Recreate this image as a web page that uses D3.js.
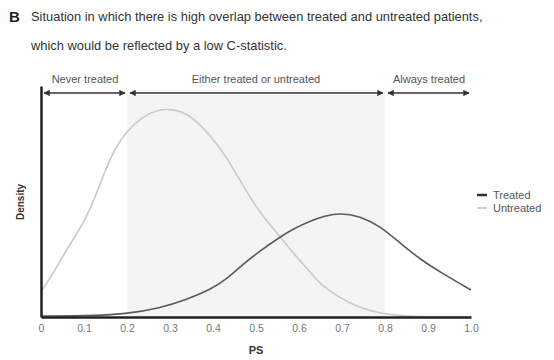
<!DOCTYPE html>
<html><head><meta charset="utf-8">
<script src="https://cdn.jsdelivr.net/npm/d3@7/dist/d3.min.js"></script>
<style>body{margin:0;background:#fff;}text{font-family:"Liberation Sans",Arial,sans-serif;}</style>
</head><body>
<script>
const title1 = "Situation in which there is high overlap between treated and untreated patients,";
const title2 = "which would be reflected by a low C-statistic.";
const xTicks = [0,0.1,0.2,0.3,0.4,0.5,0.6,0.7,0.8,0.9,1.0];
const xTickLabels = ["0","0.1","0.2","0.3","0.4","0.5","0.6","0.7","0.8","0.9","1.0"];
const regionLabels = ["Never treated","Either treated or untreated","Always treated"];
const regionBounds = [[0,0.2],[0.2,0.8],[0.8,1.0]];
const seriesNames = ["Treated","Untreated"];
const untreatedPS = [0,0.033,0.063,0.102,0.126,0.149,0.172,0.2,0.235,0.27,0.3,0.33,0.354,0.393,0.432,0.47,0.509,0.549,0.586,0.626,0.649,0.695,0.742,0.788,0.835,0.9,1.0];
const untreatedDensity = [0.25,0.47,0.70,0.96,1.20,1.46,1.69,1.86,2.00,2.07,2.08,2.05,1.99,1.82,1.60,1.31,1.04,0.84,0.64,0.45,0.33,0.19,0.09,0.04,0.01,0.0,0.0];
const treatedPS = [0,0.1,0.2,0.277,0.335,0.393,0.432,0.47,0.509,0.556,0.586,0.626,0.66,0.695,0.742,0.788,0.835,0.881,0.928,1.0];
const treatedDensity = [0.01,0.01,0.03,0.09,0.17,0.27,0.38,0.53,0.66,0.80,0.88,0.96,1.01,1.04,1.01,0.91,0.74,0.58,0.45,0.27];

const W=554,H=360;
const svg=d3.select("body").append("svg").attr("width",W).attr("height",H);
const x=d3.scaleLinear().domain([0,1]).range([41,471]);
const y=d3.scaleLinear().domain([0,2.31]).range([317,86]);

// title
svg.append("text").attr("x",9).attr("y",22).attr("font-size",15).attr("font-weight","bold").attr("fill","#222").text("B");
svg.append("text").attr("x",31).attr("y",21).attr("font-size",12.9).attr("fill","#333").text(title1);
svg.append("text").attr("x",31).attr("y",50).attr("font-size",12.9).attr("fill","#333").text(title2);

// shaded region
svg.append("rect").attr("x",x(0.2)).attr("y",95).attr("width",x(0.8)-x(0.2)).attr("height",317-95).attr("fill","#f4f4f4");

// arrows
const defs=svg.append("defs");
defs.append("marker").attr("id","ah").attr("viewBox","0 0 10 10").attr("refX",9).attr("refY",5)
  .attr("markerWidth",4).attr("markerHeight",4).attr("orient","auto-start-reverse")
  .append("path").attr("d","M0,0L10,5L0,10z").attr("fill","#333");
regionBounds.forEach((b,i)=>{
  svg.append("line").attr("x1",x(b[0])+3).attr("x2",x(b[1])-2).attr("y1",93).attr("y2",93)
    .attr("stroke","#333").attr("stroke-width",1.6)
    .attr("marker-start","url(#ah)").attr("marker-end","url(#ah)");
});
const labelX=[85,256,429];
regionLabels.forEach((t,i)=>{
  svg.append("text").attr("x",labelX[i]).attr("y",83).attr("text-anchor","middle").attr("font-size",11).attr("fill","#555").text(t);
});

// curves
const line=d3.line().x(d=>x(d[0])).y(d=>y(d[1])).curve(d3.curveBasis);
const untreated=untreatedPS.map((p,i)=>[p,untreatedDensity[i]]);
const treated=treatedPS.map((p,i)=>[p,treatedDensity[i]]);
svg.append("path").attr("d",line(untreated)).attr("fill","none").attr("stroke","#c9c9c9").attr("stroke-width",1.6);
svg.append("path").attr("d",line(treated)).attr("fill","none").attr("stroke","#5a5a5a").attr("stroke-width",1.6);

// axes
const xAxis=d3.axisBottom(x).tickValues(xTicks).tickFormat((d,i)=>xTickLabels[i]).tickSize(0).tickPadding(8);
const gx=svg.append("g").attr("transform","translate(0,317)").call(xAxis);
gx.select(".domain").attr("stroke","#222").attr("stroke-width",2.5);
gx.selectAll("text").attr("font-size",10.5).attr("fill","#777").attr("font-family","Liberation Sans, Arial, sans-serif");
const yAxis=d3.axisLeft(y).tickValues([]).tickSize(0);
const gy=svg.append("g").attr("transform","translate(41,0)").call(yAxis);
gy.select(".domain").attr("stroke","#222").attr("stroke-width",2.5);

svg.append("text").attr("x",256).attr("y",354).attr("text-anchor","middle").attr("font-size",11).attr("font-weight","bold").attr("fill","#333").text("PS");
svg.append("text").attr("transform","translate(24,202) rotate(-90)").attr("text-anchor","middle").attr("font-size",10).attr("font-weight","bold").attr("fill","#333").text("Density");

// legend
const legColors=["#333","#c9c9c9"];
const legY=[195,208];
seriesNames.forEach((n,i)=>{
  svg.append("line").attr("x1",477).attr("x2",487).attr("y1",legY[i]).attr("y2",legY[i]).attr("stroke",legColors[i]).attr("stroke-width",i===0?2.5:1.6);
  svg.append("text").attr("x",493).attr("y",legY[i]+4).attr("font-size",11).attr("fill","#555").text(n);
});
</script>
</body></html>
